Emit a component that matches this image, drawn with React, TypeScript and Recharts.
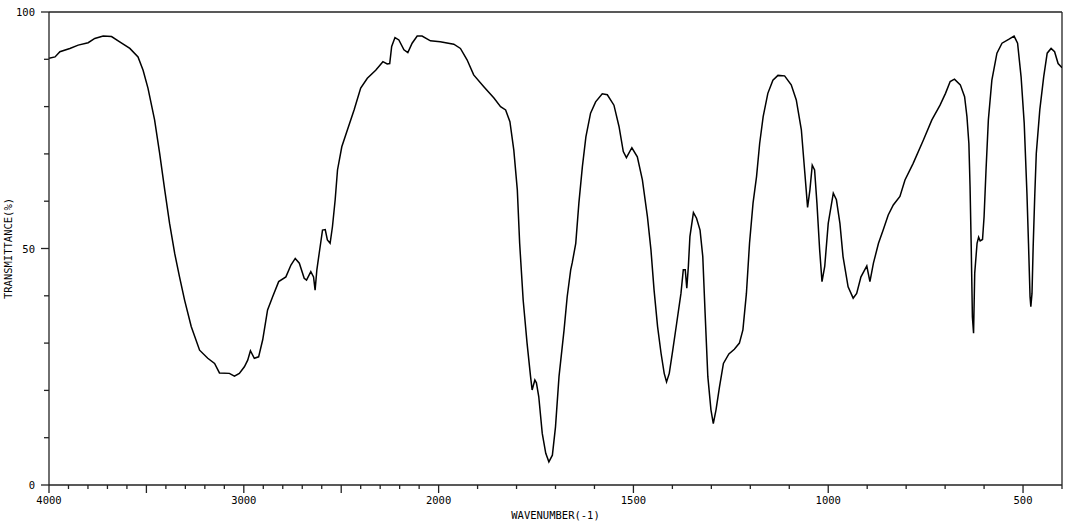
import React from 'react';
import { LineChart, Line, XAxis, YAxis, ReferenceLine } from 'recharts';

const wavenumbers = [
  4000, 3969, 3944, 3893, 3850, 3799, 3765, 3722, 3679, 3637, 3585, 3543, 3517, 3492, 3458, 3432, 3406, 3381, 3355, 3330,
  3304, 3270, 3227, 3185, 3150, 3125, 3074, 3048, 3023, 2997, 2980, 2966, 2946, 2924, 2903, 2878, 2852, 2821, 2784, 2758,
  2736, 2715, 2690, 2678, 2656, 2642, 2634, 2625, 2613, 2596, 2582, 2571, 2557, 2545, 2531, 2519, 2497, 2468, 2434, 2400,
  2366, 2323, 2286, 2264, 2251, 2241, 2224, 2204, 2178, 2158, 2136, 2110, 2085, 2042, 1996, 1961, 1944, 1927, 1910, 1884,
  1858, 1841, 1828, 1817, 1807, 1798, 1792, 1783, 1773, 1764, 1760, 1753, 1749, 1743, 1734, 1725, 1717, 1708, 1700, 1691,
  1678, 1670, 1661, 1657, 1648, 1640, 1631, 1622, 1610, 1597, 1580, 1567, 1550, 1537, 1526, 1518, 1504, 1490, 1477, 1464,
  1455, 1447, 1438, 1429, 1421, 1415, 1408, 1399, 1389, 1378, 1372, 1367, 1363, 1359, 1355, 1346, 1338, 1329, 1322, 1316,
  1309, 1301, 1295, 1288, 1279, 1269, 1255, 1241, 1228, 1219, 1210, 1202, 1193, 1184, 1176, 1167, 1155, 1142, 1129, 1112,
  1095, 1082, 1069, 1060, 1053, 1047, 1041, 1035, 1029, 1022, 1016, 1009, 1000, 987, 979, 970, 962, 949, 936, 927,
  916, 901, 893, 884, 871, 859, 846, 833, 816, 803, 782, 756, 734, 713, 699, 687, 676, 661, 650, 644,
  639, 636, 633, 630, 627, 624, 618, 614, 610, 604, 600, 595, 589, 580, 567, 554, 537, 523, 514, 505,
  497, 490, 486, 482, 480, 477, 474, 470, 466, 457, 447, 438, 428, 419, 410, 401, 400,
];

const transmittance = [
  90.2, 90.5, 91.6, 92.3, 93.0, 93.5, 94.4, 94.9, 94.8, 93.7, 92.3, 90.5, 87.7, 83.9, 77.2, 70.1, 62.4, 55.3, 49.0, 44.0,
  39.1, 33.5, 28.5, 26.8, 25.7, 23.7, 23.6, 23.0, 23.6, 25.0, 26.4, 28.4, 26.8, 27.1, 30.7, 37.0, 39.8, 43.0, 44.0, 46.5,
  47.9, 46.9, 43.7, 43.3, 45.1, 44.0, 41.2, 45.5, 49.0, 53.9, 54.0, 51.8, 51.1, 54.6, 60.3, 66.6, 71.5, 75.1, 79.3, 83.9,
  86.0, 87.7, 89.5, 89.0, 89.1, 92.7, 94.6, 94.1, 92.0, 91.4, 93.4, 94.9, 94.9, 93.9, 93.7, 93.2, 92.3, 89.9, 86.7, 84.2,
  81.8, 80.0, 79.3, 76.8, 70.8, 62.4, 51.1, 39.1, 30.0, 22.9, 20.1, 22.2, 21.6, 18.7, 10.9, 6.7, 4.9, 6.3, 12.3, 22.9,
  32.8, 39.8, 45.5, 47.0, 51.1, 59.6, 67.3, 73.6, 78.6, 81.0, 82.7, 82.5, 80.3, 75.8, 70.5, 69.2, 71.3, 69.4, 64.5, 56.7,
  49.7, 41.2, 33.5, 27.8, 23.6, 21.8, 23.6, 28.5, 34.2, 40.5, 45.5, 45.5, 41.6, 46.2, 52.5, 57.6, 56.4, 53.9, 48.3, 36.3,
  22.9, 15.9, 13.0, 15.9, 20.8, 25.7, 27.7, 28.7, 30.0, 32.8, 40.5, 51.1, 59.6, 65.2, 72.2, 77.9, 82.8, 85.6, 86.6, 86.5,
  84.6, 81.4, 75.1, 65.9, 58.7, 62.4, 67.6, 66.6, 59.6, 49.7, 43.0, 46.2, 55.3, 61.7, 60.3, 55.3, 48.3, 41.9, 39.5, 40.5,
  44.0, 46.3, 43.0, 46.9, 51.1, 53.9, 57.1, 59.2, 61.0, 64.5, 68.0, 72.9, 77.2, 80.3, 82.8, 85.3, 85.8, 84.6, 82.1, 77.9,
  72.2, 63.1, 50.4, 35.6, 32.1, 44.8, 51.1, 52.4, 51.6, 51.9, 56.7, 66.6, 77.2, 85.6, 91.3, 93.4, 94.2, 94.9, 93.4, 86.3,
  76.5, 61.7, 51.1, 39.8, 37.7, 40.5, 50.4, 61.0, 70.1, 79.3, 86.3, 91.3, 92.3, 91.6, 89.1, 88.3, 88.3,
];

const xTickWavenumbers: number[] = [];
for (let w = 4000; w >= 400; w -= 100) xTickWavenumbers.push(w);
const xMajorTicks = [4000, 3500, 3000, 2500, 2000, 1500, 1000, 500];
const xLabelTicks = [4000, 3000, 2000, 1500, 1000, 500];

const yTicks = [0, 10, 20, 30, 40, 50, 60, 70, 80, 90, 100];
const yLabelTicks = [0, 50, 100];

// The spectrum axis changes scale at 2000 cm-1 (below 2000 it is twice as wide).
const toAxis = (w: number) => (w >= 2000 ? 4000 - w : 2000 + 2 * (2000 - w));
const fromAxis = (u: number) => (u <= 2000 ? 4000 - u : 2000 - (u - 2000) / 2);

const data = wavenumbers.map((w, i) => ({ u: toAxis(w), t: transmittance[i] }));

const FONT = '"DejaVu Sans Mono", monospace';

const XTick = (props: any) => {
  const { x, y, payload } = props;
  const w = Math.round(fromAxis(payload.value));
  const major = xMajorTicks.includes(w);
  const labelled = xLabelTicks.includes(w);
  return (
    <g>
      <line x1={x} x2={x} y1={y} y2={y + (major ? 8 : 4)} stroke="#222" strokeWidth={1.3} />
      {labelled && (
        <text x={x} y={y + 19} textAnchor="middle" fontFamily={FONT} fontSize={10.5} fill="#000">
          {w}
        </text>
      )}
    </g>
  );
};

const YTick = (props: any) => {
  const { x, y, payload } = props;
  const v = payload.value;
  const labelled = yLabelTicks.includes(v);
  return (
    <g>
      <line x1={x} x2={x - (labelled ? 8 : 5)} y1={y} y2={y} stroke="#222" strokeWidth={1.3} />
      {labelled && (
        <text x={x - 14} y={y + 4} textAnchor="end" fontFamily={FONT} fontSize={10.5} fill="#000">
          {v}
        </text>
      )}
    </g>
  );
};

export default function App() {
  return (
    <div style={{ position: 'absolute', left: 0, top: 0, width: 1067, height: 522, background: '#fff' }}>
      <LineChart width={1067} height={522} data={data} margin={{ top: 12, right: 5, bottom: 12, left: 9 }}>
        <XAxis
          dataKey="u"
          type="number"
          domain={[0, 5200]}
          ticks={xTickWavenumbers.map(toAxis)}
          interval={0}
          tick={<XTick />}
          tickLine={false}
          tickSize={0}
          tickMargin={0}
          height={25}
          stroke="#222"
          strokeWidth={1.3}
          label={{
            value: 'WAVENUMBER(-1)',
            position: 'insideBottom',
            offset: -9,
            style: { fontFamily: FONT, fontSize: 10.5, fill: '#000' },
          }}
        />
        <YAxis
          type="number"
          domain={[0, 100]}
          ticks={yTicks}
          interval={0}
          tick={<YTick />}
          tickLine={false}
          tickSize={0}
          tickMargin={0}
          width={40}
          stroke="#222"
          strokeWidth={1.3}
          label={{
            value: 'TRANSMITTANCE(%)',
            angle: -90,
            position: 'insideLeft',
            offset: -1,
            style: { fontFamily: FONT, fontSize: 10.5, fill: '#000', textAnchor: 'middle' },
          }}
        />
        <ReferenceLine y={100} stroke="#222" strokeWidth={1.3} />
        <ReferenceLine x={5200} stroke="#222" strokeWidth={1.3} />
        <Line
          type="linear"
          dataKey="t"
          stroke="#000"
          strokeWidth={1.5}
          dot={false}
          isAnimationActive={false}
        />
      </LineChart>
    </div>
  );
}
